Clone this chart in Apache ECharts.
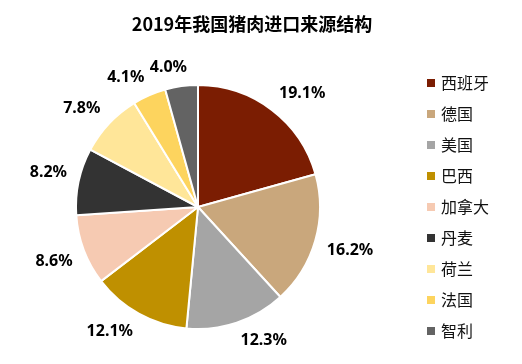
<!DOCTYPE html>
<html>
<head>
<meta charset="utf-8">
<script src="https://cdn.jsdelivr.net/npm/echarts@6/dist/echarts.min.js"></script>
<style>
html,body{margin:0;padding:0;background:#fff;}
#c{width:522px;height:364px;}
</style>
</head>
<body>
<div id="c"></div>
<script>
var titleText = '2019年我国猪肉进口来源结构';
var categories = ['西班牙', '德国', '美国', '巴西', '加拿大', '丹麦', '荷兰', '法国', '智利'];
var values = [19.1, 16.2, 12.3, 12.1, 8.6, 8.2, 7.8, 4.1, 4.0];
var colors = ['#7B1D02', '#C9A77C', '#A5A5A5', '#BF9000', '#F6CAB2', '#333333', '#FFE699', '#FDD45E', '#636363'];

var chart = echarts.init(document.getElementById('c'), null, {renderer: 'canvas'});
var data = categories.map(function (n, i) {
  return {name: n, value: values[i], itemStyle: {color: colors[i]}};
});
var LABEL_GAP = 12;
function ramp(v) { return Math.min(1, Math.abs(v) / 0.22) * (v < 0 ? -1 : 1); }
chart.setOption({
  animation: false,
  backgroundColor: '#fff',
  title: {
    text: titleText,
    left: 247,
    textAlign: 'center',
    top: 10,
    textStyle: {fontFamily: 'Noto Sans CJK SC', fontWeight: 'bold', fontSize: 18, color: '#000'}
  },
  legend: {
    orient: 'vertical',
    left: 425,
    top: 75,
    padding: 0,
    itemWidth: 10,
    itemHeight: 10,
    itemGap: 15,
    icon: 'rect',
    data: categories,
    textStyle: {fontFamily: 'Noto Sans CJK SC', fontSize: 16, color: '#111'}
  },
  series: [{
    type: 'pie',
    center: [198, 207],
    radius: 122,
    startAngle: 90,
    clockwise: true,
    avoidLabelOverlap: false,
    data: data,
    itemStyle: {borderColor: '#fff', borderWidth: 2},
    label: {
      show: true,
      position: 'outside',
      formatter: function (p) { return p.value.toFixed(1) + '%'; },
      fontFamily: 'Noto Sans',
      fontWeight: 'bold',
      fontSize: 16,
      color: '#000'
    },
    labelLine: {show: true, length: 20, length2: 0, lineStyle: {opacity: 0, width: 0}},
    labelLayout: function (p) {
      var pts = p.labelLinePoints;
      if (!pts) return {};
      var dx = pts[1][0] - pts[0][0], dy = pts[1][1] - pts[0][1];
      var len = Math.sqrt(dx * dx + dy * dy) || 1;
      dx /= len; dy /= len;
      var w = p.labelRect.width, h = p.labelRect.height * 0.85;
      var x = pts[0][0] + dx * LABEL_GAP + ramp(dx) * w / 2;
      var y = pts[0][1] + dy * LABEL_GAP + ramp(dy) * h / 2;
      return {x: x, y: y, align: 'center', verticalAlign: 'middle'};
    },
    emphasis: {disabled: true}
  }]
});
</script>
</body>
</html>
